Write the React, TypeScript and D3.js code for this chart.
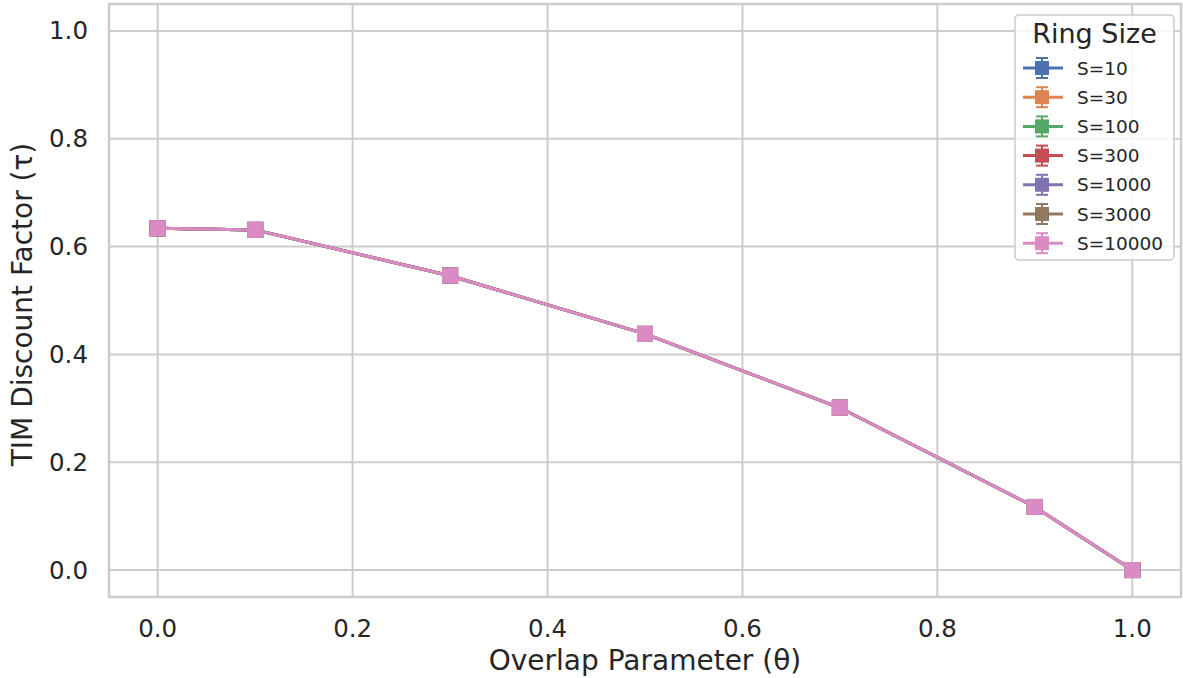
import React from 'react';
import * as d3 from 'd3';

const theta = [0, 0.1, 0.3, 0.5, 0.7, 0.9, 1.0];
const tau = [0.634, 0.631, 0.546, 0.438, 0.301, 0.117, 0.0];
const ringSizes = ['S=10', 'S=30', 'S=100', 'S=300', 'S=1000', 'S=3000', 'S=10000'];
const palette = ['#4C72B0', '#DD8452', '#55A868', '#C44E52', '#8172B3', '#937860', '#DA8BC3'];
const ticks = [0, 0.2, 0.4, 0.6, 0.8, 1.0];

const W = 1183;
const H = 678;
const left = 109, right = 1181, top = 4, bottom = 597;
const font = 'DejaVu Sans, sans-serif';
const gridColor = '#cccccc';

const App = () => {
  const x = d3.scaleLinear().domain([-0.05, 1.05]).range([left, right]);
  const y = d3.scaleLinear().domain([-0.05, 1.05]).range([bottom, top]);
  const line = d3.line<number>()
    .x((_, i) => x(theta[i]))
    .y(d => y(d));

  const legX = 1015, legY = 15, legW = 159, legH = 245;

  return (
    <svg width={W} height={H} style={{ position: 'absolute', left: 0, top: 0, background: '#fff' }}>
      {/* grid */}
      {ticks.map(t => (
        <line key={'gx' + t} x1={x(t)} x2={x(t)} y1={top} y2={bottom} stroke={gridColor} strokeWidth={2} />
      ))}
      {ticks.map(t => (
        <line key={'gy' + t} x1={left} x2={right} y1={y(t)} y2={y(t)} stroke={gridColor} strokeWidth={2} />
      ))}
      <rect x={left} y={top} width={right - left} height={bottom - top} fill="none" stroke={gridColor} strokeWidth={2.5} />

      {/* tick labels */}
      {ticks.map(t => (
        <text key={'tx' + t} x={x(t)} y={637} textAnchor="middle" fontFamily={font} fontSize={24.5} fill="#262626">
          {d3.format('.1f')(t)}
        </text>
      ))}
      {ticks.map(t => (
        <text key={'ty' + t} x={88} y={y(t) + 8.5} textAnchor="end" fontFamily={font} fontSize={24.5} fill="#262626">
          {d3.format('.1f')(t)}
        </text>
      ))}

      {/* axis labels */}
      <text x={(left + right) / 2} y={670} textAnchor="middle" fontFamily={font} fontSize={28} fill="#262626">
        Overlap Parameter (θ)
      </text>
      <text transform={`translate(32,${(top + bottom) / 2 + 4}) rotate(-90)`} textAnchor="middle" fontFamily={font} fontSize={28} fill="#262626">
        TIM Discount Factor (τ)
      </text>

      {/* series */}
      {ringSizes.map((s, k) => (
        <g key={s}>
          <path d={line(tau) || ''} fill="none" stroke={palette[k]} strokeWidth={3} />
          {tau.map((v, i) => (
            <rect key={i} x={x(theta[i]) - 8} y={y(v) - 8} width={16} height={16} fill={palette[k]} />
          ))}
        </g>
      ))}

      {/* legend */}
      <rect x={legX} y={legY} width={legW} height={legH} rx={4} fill="#fff" fillOpacity={0.8} stroke={gridColor} strokeWidth={1.5} />
      <text x={legX + legW / 2} y={43} textAnchor="middle" fontFamily={font} fontSize={27} fill="#262626">Ring Size</text>
      {ringSizes.map((s, k) => {
        const cy = 68 + k * 29.2;
        const cx = 1042;
        return (
          <g key={'leg' + s}>
            <line x1={1023} x2={1063} y1={cy} y2={cy} stroke={palette[k]} strokeWidth={3} />
            <line x1={cx} x2={cx} y1={cy - 10} y2={cy + 10} stroke={palette[k]} strokeWidth={2} />
            <line x1={cx - 6} x2={cx + 6} y1={cy - 10} y2={cy - 10} stroke={palette[k]} strokeWidth={2} />
            <line x1={cx - 6} x2={cx + 6} y1={cy + 10} y2={cy + 10} stroke={palette[k]} strokeWidth={2} />
            <rect x={cx - 7} y={cy - 7} width={14} height={14} fill={palette[k]} />
            <text x={1077} y={cy + 6.5} fontFamily={font} fontSize={18.5} fill="#262626">{s}</text>
          </g>
        );
      })}
    </svg>
  );
};

export default App;
